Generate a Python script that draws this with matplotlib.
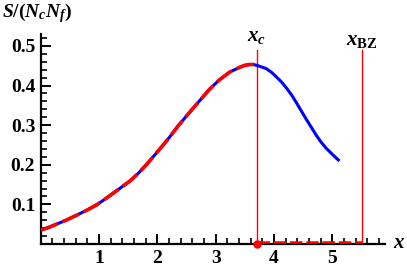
import matplotlib.pyplot as plt
import numpy as np
from matplotlib.ticker import MultipleLocator

serif = 'Liberation Serif'
plt.rcParams['mathtext.fontset'] = 'custom'
plt.rcParams['mathtext.rm'] = serif + ':bold'
plt.rcParams['mathtext.it'] = serif + ':italic:bold'
plt.rcParams['mathtext.bf'] = serif + ':bold'

# entropy curve
x_vals = [0.0, 0.14, 0.27, 0.45, 0.62, 0.80, 0.96, 1.10, 1.24, 1.38, 1.53, 1.67,
          1.81, 1.95, 2.10, 2.21, 2.35, 2.52, 2.72, 2.89, 3.06, 3.24, 3.41, 3.50,
          3.58, 3.65, 3.72, 3.86, 3.95, 4.03, 4.12, 4.21, 4.30, 4.38, 4.55, 4.72,
          4.80, 4.89, 5.00, 5.10]
s_vals = [0.035, 0.042, 0.050, 0.061, 0.073, 0.086, 0.099, 0.113, 0.128, 0.143,
          0.159, 0.178, 0.200, 0.224, 0.250, 0.270, 0.297, 0.327, 0.361, 0.390,
          0.414, 0.434, 0.446, 0.451, 0.453, 0.453, 0.450, 0.443, 0.434, 0.423,
          0.410, 0.394, 0.376, 0.357, 0.315, 0.275, 0.258, 0.242, 0.226, 0.212]

x_c = 3.70
x_bz = 5.50
bottom_y = 0.005

fig = plt.figure(figsize=(4.07, 2.70), dpi=100)
ax = fig.add_axes([40.7 / 407, 26 / 270, (385 - 40.7) / 407, (244 - 34) / 270])

ax.plot(x_vals, s_vals, color='blue', lw=2.2, zorder=3)
n = x_vals.index(3.72)
ax.plot(x_vals[:n + 1], s_vals[:n + 1], color='red', lw=2.6,
        dashes=(5, 1.5), zorder=4)

ax.plot([x_c, x_c], [0, 0.49], color='red', lw=1, zorder=2)
ax.plot([x_bz, x_bz], [0, 0.49], color='red', lw=1, zorder=2)
ax.plot([x_c, x_bz], [bottom_y, bottom_y], color='red', lw=1.8,
        dashes=(5, 1.5), zorder=4)
ax.plot([x_c], [0.0], 'o', color='red', ms=5, zorder=5, clip_on=False)

ax.text(x_c, 0.50, r'$\mathit{x_c}$', ha='center', va='bottom',
        fontsize=15, family=serif)
ax.text(x_bz, 0.49, r'$\mathit{x}_{\mathrm{BZ}}$', ha='center', va='bottom',
        fontsize=15, family=serif)

ax.set_xlim(0, 5.9)
ax.set_ylim(0, 0.53)
ax.spines['top'].set_visible(False)
ax.spines['right'].set_visible(False)
ax.spines['left'].set_linewidth(1.6)
ax.spines['bottom'].set_linewidth(1.6)

ax.xaxis.set_major_locator(MultipleLocator(1))
ax.xaxis.set_minor_locator(MultipleLocator(0.2))
ax.yaxis.set_major_locator(MultipleLocator(0.1))
ax.yaxis.set_minor_locator(MultipleLocator(0.02))
ax.set_xticks([1, 2, 3, 4, 5])
ax.set_yticks([0.1, 0.2, 0.3, 0.4, 0.5])
ax.set_xticklabels(['1', '2', '3', '4', '5'])
ax.set_yticklabels(['0.1', '0.2', '0.3', '0.4', '0.5'])
ax.tick_params(which='both', bottom=True, left=True, top=False, right=False)
ax.tick_params(which='major', direction='in', length=7, width=1.4, pad=4,
               color='black')
ax.tick_params(which='minor', direction='in', length=4, width=1.2,
               color='black')
for lab in ax.get_xticklabels() + ax.get_yticklabels():
    lab.set_family(serif)
    lab.set_fontweight('bold')
    lab.set_fontsize(14)

fig.text(2 / 407, 1 - 13 / 270, r'$S/(N_cN_f)$', fontsize=14,
         family=serif, va='center', ha='left')
fig.text(399 / 407, 1 - 243 / 270, r'$x$', fontsize=15,
         family=serif, va='center', ha='center')

fig.savefig('out.png', dpi=100)
